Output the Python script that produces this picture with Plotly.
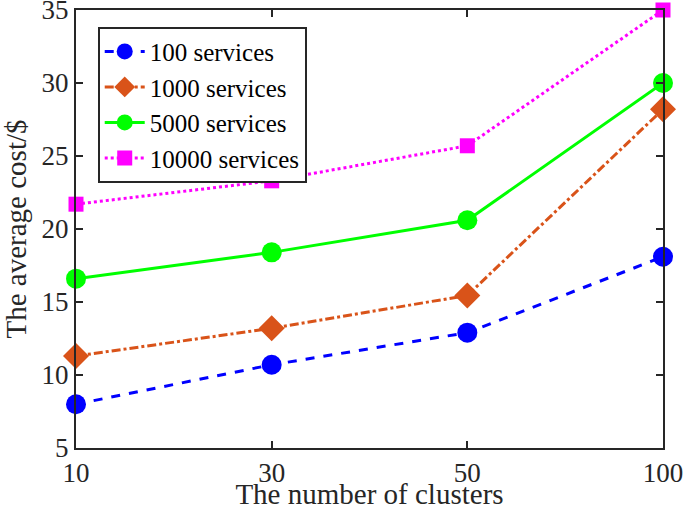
import plotly.graph_objects as go

clusters = ["10", "30", "50", "100"]
s100 = [8.0, 10.7, 12.9, 18.1]
s1000 = [11.3, 13.2, 15.45, 28.2]
s5000 = [16.6, 18.4, 20.6, 30.0]
s10000 = [21.7, 23.3, 25.7, 35.0]
names = ["100 services", "1000 services", "5000 services", "10000 services"]
yticks = [5, 10, 15, 20, 25, 30, 35]

FONT = "Liberation Serif"
AX = "#262626"

series = [
    (names[0], s100, "#0000FF", "dash", "circle", 20),
    (names[1], s1000, "#D95319", "dashdot", "diamond", 20),
    (names[2], s5000, "#00FF00", "solid", "circle", 20),
    (names[3], s10000, "#FF00FF", "dot", "square", 15),
]

fig = go.Figure()
for name, vals, col, dash, sym, sz in series:
    fig.add_trace(go.Scatter(
        x=clusters, y=vals, name=name, mode="lines+markers",
        line=dict(color=col, width=3, dash=dash),
        marker=dict(symbol=sym, size=sz, color=col),
        cliponaxis=False,
    ))

fig.update_layout(
    width=685, height=510,
    margin=dict(l=76, r=22, t=10, b=62),
    paper_bgcolor="white", plot_bgcolor="white",
    font=dict(family=FONT, color=AX, size=27),
    showlegend=True,
    legend=dict(
        x=0.037, y=0.962, xanchor="left", yanchor="top",
        bgcolor="white", bordercolor=AX, borderwidth=2,
        font=dict(family=FONT, size=25, color="black"),
        tracegroupgap=0, itemwidth=40,
    ),
)
fig.update_xaxes(
    type="category", range=[0, 3], automargin=False,
    showline=True, linecolor=AX, linewidth=2, mirror="ticks",
    ticks="inside", ticklen=7, tickwidth=2, tickcolor=AX,
    showgrid=False, zeroline=False, ticklabeloverflow="allow",
    tickfont=dict(family=FONT, size=27, color=AX),
    title=dict(text="The number of clusters", font=dict(family=FONT, size=29, color=AX), standoff=7),
)
fig.update_yaxes(
    range=[5, 35], tickmode="array", tickvals=yticks, automargin=False,
    showline=True, linecolor=AX, linewidth=2, mirror="ticks",
    ticks="inside", ticklen=7, tickwidth=2, tickcolor=AX,
    showgrid=False, zeroline=False, ticklabeloverflow="allow",
    tickfont=dict(family=FONT, size=27, color=AX),
    title=dict(text="The average cost/$", font=dict(family=FONT, size=29, color=AX), standoff=9),
)

fig.write_html("out.html", config={"displayModeBar": False},
               post_script="document.body.style.margin='0';")
